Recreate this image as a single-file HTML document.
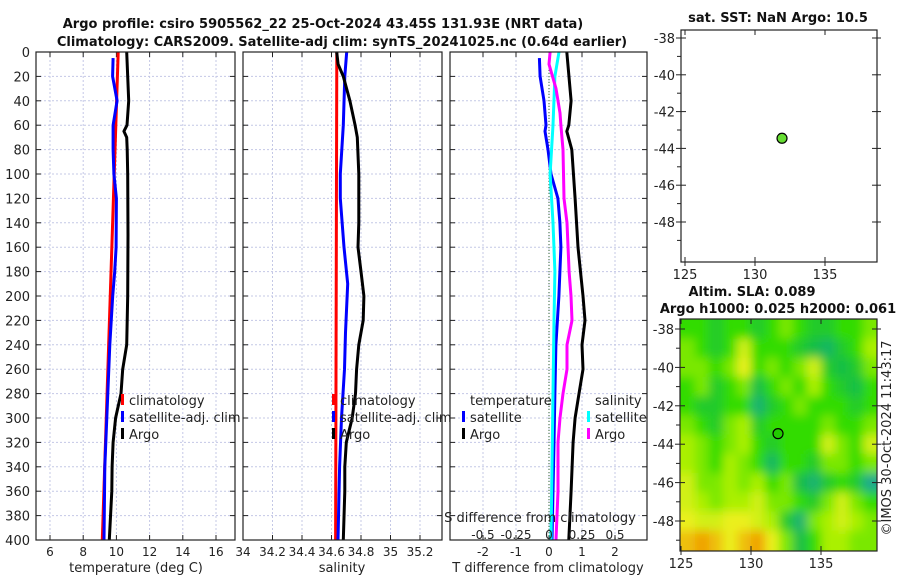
<!DOCTYPE html>
<html><head><meta charset="utf-8"><style>
body{margin:0;background:#fff;}
svg text{font-family:"DejaVu Sans","Liberation Sans",sans-serif;fill:#222;}
.b{font-weight:bold;font-size:13px;fill:#111;}
.t{font-size:13px;}
.k{font-size:12px;}
</style></head><body>
<svg id="c" width="900" height="580" xmlns="http://www.w3.org/2000/svg">
<defs>
<clipPath id="m2clip"><rect x="680" y="319" width="197" height="232"/></clipPath>
<filter id="bl"><feGaussianBlur stdDeviation="5"/></filter>
</defs>
<text class="b" x="323" y="28" text-anchor="middle">Argo profile: csiro 5905562_22 25-Oct-2024 43.45S 131.93E (NRT data)</text>
<text class="b" x="342" y="46" text-anchor="middle">Climatology: CARS2009. Satellite-adj clim: synTS_20241025.nc (0.64d earlier)</text>
<text class="b" x="778" y="22" text-anchor="middle">sat. SST: NaN Argo: 10.5</text>
<text class="b" x="752" y="296" text-anchor="middle">Altim. SLA: 0.089</text>
<text class="b" x="778" y="313" text-anchor="middle">Argo h1000: 0.025 h2000: 0.061</text>
<text class="t" transform="translate(891,438) rotate(-90)" text-anchor="middle">©IMOS 30-Oct-2024 11:43:17</text>
<g id="root"></g>
</svg>
<script>
// ---- data ----
const depthTicks=[0,20,40,60,80,100,120,140,160,180,200,220,240,260,280,300,320,340,360,380,400];
const tTicks=[6,8,10,12,14,16];
const sTicks=[34,34.2,34.4,34.6,34.8,35,35.2];
const sTickLabels=["34","34.2","34.4","34.6","34.8","35","35.2"];
const dTTicks=[-2,-1,0,1,2];
const dSTicks=[-0.5,-0.25,0,0.25,0.5];
const dSTickLabels=["-0.5","-0.25","0","0.25","0.5"];
const climTDepth=[0,400];
const climT=[10.11,9.15];
const satTDepth=[5,20,40,60,80,100,120,160,180,200,240,280,300,340,400];
const satT=[9.8,9.77,10.04,9.8,9.8,9.85,10.0,9.98,9.9,9.78,9.6,9.48,9.42,9.3,9.25];
const argoTDepth=[0,40,60,65,70,80,100,150,200,240,260,280,300,320,340,360,400];
const argoT=[10.62,10.74,10.64,10.45,10.62,10.65,10.68,10.7,10.68,10.62,10.38,10.28,9.95,9.8,9.74,9.72,9.57];
const climSDepth=[0,400];
const climS=[34.636,34.628];
const satSDepth=[0,20,60,100,120,160,190,230,260,300,340,400];
const satS=[34.703,34.69,34.68,34.66,34.66,34.685,34.71,34.695,34.688,34.668,34.655,34.644];
const argoSDepth=[0,10,20,40,60,70,100,140,160,180,200,220,240,260,280,300,320,340,360,400];
const argoS=[34.635,34.645,34.68,34.725,34.76,34.775,34.785,34.785,34.78,34.8,34.82,34.815,34.785,34.77,34.763,34.74,34.7,34.69,34.69,34.68];
const dTsatDepth=[5,20,40,60,65,80,100,120,140,160,200,240,280,320,360,400];
const dTsat=[-0.29,-0.27,-0.15,-0.09,-0.12,-0.03,0.06,0.27,0.33,0.36,0.3,0.21,0.18,0.15,0.12,0.09];
const dTargoDepth=[0,40,60,65,80,120,160,200,220,240,260,280,300,320,360,400];
const dTargo=[0.54,0.67,0.6,0.54,0.69,0.79,0.88,1.03,1.09,1.0,1.03,0.91,0.79,0.73,0.67,0.6];
const dSsatDepth=[0,20,60,100,140,180,220,280,340,400];
const dSsat=[0.076,0.045,0.03,0.008,0.03,0.045,0.038,0.03,0.023,0.015];
const dSargoDepth=[0,10,30,50,60,80,120,140,180,200,220,240,260,280,300,320,360,400];
const dSargo=[0.008,0,0.053,0.083,0.09,0.106,0.114,0.136,0.152,0.167,0.174,0.136,0.136,0.106,0.083,0.068,0.068,0.053];
const mapLonTicks=[125,130,135];
const mapLatTicks=[-38,-40,-42,-44,-46,-48];
const argoLon=[131.93];
const argoLat=[-43.45];
const slaLon0=125, slaLat0=-37.5;
const slaGrid=[
[0,0,-0.3,0,0,-0.3,0,0.3,0,-0.3,-0.3,0,0,0.3],
[0.3,0,-0.3,0,0.8,0,0,0,-0.3,-0.5,-0.7,-0.3,0,0.5],
[0.3,0.3,0,0.3,1.0,0,0.3,0,0.3,0.8,-0.3,-0.5,-0.3,0.3],
[0,0.3,-0.3,0,0.3,-0.5,0,0.3,0,0.5,0,-0.3,-0.5,0],
[0,-0.3,-0.3,0,0,-0.8,-0.3,0,0.3,0,0,0,-0.3,0],
[0.3,0,-0.3,0.3,0.5,-0.3,0,0,0,0,0.3,0,0,0.3],
[0.5,0.3,0,0.3,0.5,0,-0.3,0,0,0,0.8,0.3,0,0.8],
[0.5,0.3,0,0.5,0.3,0,-0.7,0,0,-0.3,0.3,0.3,0,0.3],
[0.8,0.3,0.3,0.5,0.3,0.5,0,0.3,-0.5,-0.8,-0.3,0,-0.3,-1.0],
[0.8,0.5,0.3,0.5,0.5,0.8,0.3,0.3,0,-0.3,0.3,0.8,0.3,0],
[1.0,0.8,0.8,1.0,1.0,0.8,0.5,-0.3,-0.8,0.3,0.5,0.8,0.5,0.3],
[1.3,1.5,1.3,1.0,1.3,1.5,1.0,0.3,-0.5,0,0.5,0.5,0.3,0.3]];

// ---- helpers ----
const NS="http://www.w3.org/2000/svg";
const root=document.getElementById('root');
function mk(tag,at,parent){const e=document.createElementNS(NS,tag);for(const k in at)e.setAttribute(k,at[k]);(parent||root).appendChild(e);return e;}
function txt(x,y,s,anchor,cls){const e=mk('text',{x:x,y:y,'text-anchor':anchor||'middle','class':cls||'t'});e.textContent=s;return e;}
const Y0=52,Y1=540;
const yD=d=>Y0+d*(Y1-Y0)/400;
function lin(d0,d1,p0,p1){return v=>p0+(v-d0)*(p1-p0)/(d1-d0);}

const panels=[
 {x0:36,x1:235,name:'temperature-panel',sx:lin(6,16,50,216),ticks:tTicks,labels:tTicks.map(String),xlabel:'temperature (deg C)',lx:136},
 {x0:243,x1:442,name:'salinity-panel',sx:lin(34,35.2,243,420),ticks:sTicks,labels:sTickLabels,xlabel:'salinity',lx:342},
 {x0:450,x1:647,name:'difference-panel',sx:lin(0,1,549,582),ticks:dTTicks,labels:dTTicks.map(String),xlabel:'T difference from climatology',lx:548}
];
panels.forEach((p,pi)=>{
 const g=mk('g',{});
 
 
 mk('rect',{x:p.x0,y:Y0,width:p.x1-p.x0,height:Y1-Y0,fill:'#fff'},g);
 depthTicks.forEach(d=>{
  if(d>0&&d<400){const l=mk('line',{x1:p.x0,x2:p.x1,y1:yD(d),y2:yD(d),stroke:'#c4c8e6','stroke-width':1,'stroke-dasharray':'2,2'},g);
  
  mk('line',{x1:p.x0,x2:p.x0+5,y1:yD(d),y2:yD(d),stroke:'#222'},g);mk('line',{x1:p.x1-5,x2:p.x1,y1:yD(d),y2:yD(d),stroke:'#222'},g);}
 });
 p.ticks.forEach((t,i)=>{const x=p.sx(t);
  if(x>p.x0+1&&x<p.x1-1){mk('line',{x1:x,x2:x,y1:Y0,y2:Y1,stroke:'#c4c8e6','stroke-dasharray':'2,2'},g);
  mk('line',{x1:x,x2:x,y1:Y1-5,y2:Y1,stroke:'#222'},g);mk('line',{x1:x,x2:x,y1:Y0,y2:Y0+5,stroke:'#222'},g);}
  const tl=txt(x,556,p.labels[i],'middle','k');
  
  
 });
 const xl=txt(p.lx,572,p.xlabel);
 
 
 p.g=g;
});
depthTicks.forEach(d=>{const e=txt(30,yD(d)+5,String(d),'end');
 
 });

function line(g,xs,ds,sx,color,name){
 const pts=xs.map((v,i)=>sx(v).toFixed(1)+','+yD(ds[i]).toFixed(1)).join(' ');
 const e=mk('polyline',{points:pts,fill:'none',stroke:color,'stroke-width':3,'stroke-linejoin':'round'},g);
 
 
}
const P=panels;
line(P[0].g,climT,climTDepth,P[0].sx,'#ff0000','climatology-temperature');
line(P[0].g,satT,satTDepth,P[0].sx,'#0000ff','satellite-temperature');
line(P[0].g,argoT,argoTDepth,P[0].sx,'#000','argo-temperature');
line(P[1].g,climS,climSDepth,P[1].sx,'#ff0000','climatology-salinity');
line(P[1].g,satS,satSDepth,P[1].sx,'#0000ff','satellite-salinity');
line(P[1].g,argoS,argoSDepth,P[1].sx,'#000','argo-salinity');
const sxS=lin(0,0.25,549,582);
mk('line',{x1:549,x2:549,y1:Y0,y2:Y1,stroke:'#336633','stroke-width':1,'stroke-dasharray':'1,2'},P[2].g);
line(P[2].g,dTsat,dTsatDepth,P[2].sx,'#0000ff','temperature-satellite-diff');
line(P[2].g,dTargo,dTargoDepth,P[2].sx,'#000','temperature-argo-diff');
line(P[2].g,dSsat,dSsatDepth,sxS,'#00ffff','salinity-satellite-diff');
line(P[2].g,dSargo,dSargoDepth,sxS,'#ff00ff','salinity-argo-diff');
panels.forEach(p=>mk('rect',{x:p.x0,y:Y0,width:p.x1-p.x0,height:Y1-Y0,fill:'none',stroke:'#222','stroke-width':1.2},p.g));
txt(540,522,'S difference from climatology');
dSTicks.forEach((t,i)=>{const e=txt(sxS(t),539,dSTickLabels[i],'middle','k');
 
 });

function leg(x,y,color,label,name){
 const g=mk('g',{});
 
 
 mk('rect',{x:x,y:y-11,width:3,height:11,fill:color},g);
 const t=mk('text',{x:x+8,y:y,'class':'t'},g);t.textContent=label;
}
leg(121,405,'#ff0000','climatology','legend-climatology');
leg(121,422,'#0000ff','satellite-adj. clim','legend-satellite-adj');
leg(121,439,'#000','Argo','legend-argo');
leg(332,405,'#ff0000','climatology','legend-climatology-s');
leg(332,422,'#0000ff','satellite-adj. clim','legend-satellite-adj-s');
leg(332,439,'#000','Argo','legend-argo-s');
txt(470,405,'temperature','start');
leg(462,422,'#0000ff','satellite','legend-t-satellite');
leg(462,439,'#000','Argo','legend-t-argo');
txt(595,405,'salinity','start');
leg(587,422,'#00ffff','satellite','legend-s-satellite');
leg(587,439,'#ff00ff','Argo','legend-s-argo');

function cmap(v){
 const stops=[[-1,[30,170,140]],[-0.5,[20,190,70]],[0,[50,220,0]],[0.5,[170,240,0]],[1,[235,240,30]],[1.5,[240,160,0]]];
 if(v<=stops[0][0])return 'rgb('+stops[0][1]+')';
 for(let i=1;i<stops.length;i++){if(v<=stops[i][0]){const a=stops[i-1],b=stops[i],f=(v-a[0])/(b[0]-a[0]);
  return 'rgb('+a[1].map((c,k)=>Math.round(c+(b[1][k]-c)*f)).join(',')+')';}}
 return 'rgb('+stops[stops.length-1][1]+')';
}
function mapAxes(bx,by,bw,bh,lonX,latY,name,withGrid){
 const g=mk('g',{});
 
 
 if(withGrid){
  const hg=mk('g',{'clip-path':'url(#m2clip)'},g);
  const hb=mk('g',{filter:'url(#bl)'},hg);
  slaGrid.forEach((row,r)=>row.forEach((v,c)=>{
   const x=lonX(slaLon0+c),y=latY(slaLat0-r),w=lonX(slaLon0+c+1)-x,h=latY(slaLat0-r-1)-y;
   const e=mk('rect',{x:x-(c==0?12:0),y:y-(r==0?12:0),width:w+1+(c==0?12:0)+(c==row.length-1?12:0),height:h+1+(r==0?12:0)+(r==slaGrid.length-1?12:0),fill:cmap(v)},hb);
   
   
  }));
 }
 mk('rect',{x:bx,y:by,width:bw,height:bh,fill:'none',stroke:'#222','stroke-width':1.2},g);
 mapLatTicks.forEach(t=>{const y=latY(t);
  mk('line',{x1:bx,x2:bx+5,y1:y,y2:y,stroke:'#222'},g);mk('line',{x1:bx-5,x2:bx,y1:y,y2:y,stroke:'#222'},g);
  mk('line',{x1:bx+bw-5,x2:bx+bw+4,y1:y,y2:y,stroke:'#222'},g);
  const e=txt(bx-6,y+5,String(t),'end');
  
  
  mk('line',{x1:bx,x2:bx-4,y1:latY(t-1),y2:latY(t-1),stroke:'#222'},g);});
 mapLonTicks.forEach(t=>{const x=lonX(t);
  mk('line',{x1:x,x2:x,y1:by+bh-5,y2:by+bh+4,stroke:'#222'},g);mk('line',{x1:x,x2:x,y1:by,y2:by+5,stroke:'#222'},g);
  const e=txt(x,by+bh+17,String(t));
  
  });
 argoLon.forEach((lo,i)=>{const d=mk('circle',{cx:lonX(lo),cy:latY(argoLat[i]),r:5,fill:withGrid?'#22cc00':'#66dd33',stroke:'#000','stroke-width':1.2},g);
  
  });
}
mapAxes(681,30,196,232,lin(125,135,685,825),lin(-38,-48,38,222),'sst-map',false);
mapAxes(680,319,197,232,lin(125,135,681,821),lin(-38,-48,329,521),'sla-map',true);
</script>
</body></html>
